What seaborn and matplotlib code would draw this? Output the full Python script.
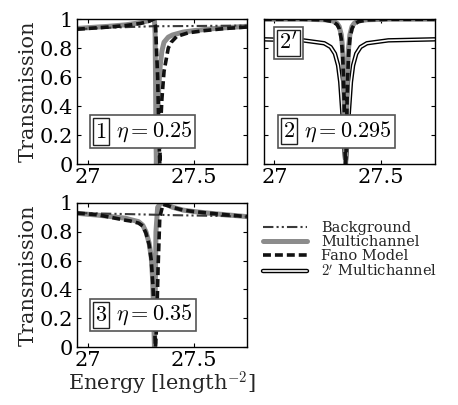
import numpy as np
import matplotlib
matplotlib.use("Agg")
import matplotlib.pyplot as plt
import matplotlib.patheffects as pe
from matplotlib.lines import Line2D
from matplotlib.offsetbox import TextArea, HPacker, PaddedBox, AnchoredOffsetbox
import seaborn as sns

# ---- panel 1 (eta = 0.25) ----
p1_multi_E = [26.95, 27.0, 27.1, 27.18, 27.25, 27.29, 27.305, 27.315, 27.318, 27.320, 27.322, 27.324,
              27.330, 27.336, 27.342, 27.35, 27.36, 27.38, 27.40, 27.45, 27.5, 27.6, 27.75]
p1_multi_T = [0.935, 0.94, 0.95, 0.96, 0.975, 0.99, 1.0, 0.99, 0.9, 0.6, 0.2, 0.0,
              0.35, 0.55, 0.68, 0.78, 0.84, 0.875, 0.89, 0.91, 0.92, 0.935, 0.95]
p1_fano_E = [26.95, 27.0, 27.1, 27.18, 27.25, 27.29, 27.31, 27.32, 27.33, 27.336, 27.340, 27.345,
             27.35, 27.36, 27.37, 27.38, 27.394, 27.42, 27.474, 27.55, 27.65, 27.75]
p1_fano_T = [0.93, 0.935, 0.945, 0.955, 0.97, 0.985, 1.0, 0.95, 0.6, 0.2, 0.0, 0.3,
             0.45, 0.64, 0.72, 0.80, 0.84, 0.88, 0.905, 0.92, 0.935, 0.945]
p1_bg_E = [26.95, 27.1, 27.3, 27.5, 27.75]
p1_bg_T = [0.93, 0.94, 0.95, 0.952, 0.955]

# ---- panel 2 (eta = 0.295) ----
p2_E = [26.95, 27.133, 27.233, 27.273, 27.293, 27.303, 27.313, 27.319, 27.323, 27.326, 27.329, 27.331,
        27.333, 27.335, 27.337, 27.340, 27.343, 27.347, 27.353, 27.363, 27.373, 27.393, 27.433, 27.533, 27.75]
p2_multi_T = [0.999, 0.999, 0.995, 0.987, 0.970, 0.948, 0.891, 0.80, 0.67, 0.50, 0.246, 0.075,
              0.0, 0.075, 0.246, 0.50, 0.67, 0.80, 0.891, 0.948, 0.970, 0.987, 0.995, 0.999, 0.999]
p2_fano_T = [0.998, 0.998, 0.994, 0.982, 0.962, 0.934, 0.862, 0.754, 0.61, 0.434, 0.20, 0.059,
             0.0, 0.059, 0.20, 0.434, 0.61, 0.754, 0.862, 0.934, 0.962, 0.982, 0.994, 0.998, 0.998]
p2_prime_E = [26.95, 27.133, 27.233, 27.263, 27.283, 27.298, 27.308, 27.318, 27.325, 27.333,
              27.341, 27.348, 27.358, 27.368, 27.383, 27.403, 27.433, 27.533, 27.75]
p2_prime_T = [0.86, 0.853, 0.833, 0.807, 0.761, 0.68, 0.566, 0.353, 0.142, 0.0,
              0.142, 0.353, 0.566, 0.68, 0.761, 0.807, 0.833, 0.853, 0.86]
p2_bg_E = [26.95, 27.35, 27.75]
p2_bg_T = [0.998, 0.998, 0.998]

# ---- panel 3 (eta = 0.35) ----
p3_multi_E = [26.95, 27.05, 27.178, 27.2, 27.24, 27.26, 27.275, 27.29, 27.30, 27.306, 27.31, 27.313,
              27.315, 27.318, 27.322, 27.33, 27.346, 27.37, 27.40, 27.45, 27.5, 27.577, 27.65, 27.75]
p3_multi_T = [0.928, 0.915, 0.894, 0.885, 0.87, 0.845, 0.8, 0.72, 0.62, 0.48, 0.3, 0.1,
              0.0, 0.3, 0.8, 0.97, 1.0, 0.99, 0.97, 0.95, 0.94, 0.928, 0.918, 0.905]
p3_fano_E = [26.95, 27.05, 27.178, 27.2, 27.24, 27.26, 27.275, 27.29, 27.30, 27.308, 27.314, 27.318,
             27.320, 27.325, 27.332, 27.34, 27.355, 27.38, 27.41, 27.45, 27.5, 27.577, 27.65, 27.75]
p3_fano_T = [0.93, 0.917, 0.88, 0.875, 0.86, 0.84, 0.79, 0.71, 0.6, 0.42, 0.2, 0.05,
             0.0, 0.15, 0.55, 0.9, 0.99, 0.98, 0.965, 0.95, 0.94, 0.928, 0.918, 0.905]
p3_bg_E = [26.95, 27.2, 27.4, 27.6, 27.75]
p3_bg_T = [0.93, 0.922, 0.915, 0.91, 0.905]

xticks = [27, 27.5]
xticklabels = ["27", "27.5"]
yticks = [0, 0.2, 0.4, 0.6, 0.8, 1]
yticklabels = ["0", "0.2", "0.4", "0.6", "0.8", "1"]

sns.set_theme(style="ticks")
plt.rcParams["font.family"] = ["DejaVu Serif"]
plt.rcParams["mathtext.fontset"] = "cm"

GRAY = "#8c8c8c"
bg_style = dict(color="#3a3a3a", lw=1.5, linestyle=(0, (5, 1.5, 1, 1.5, 1, 1.5)))
multi_style = dict(color=GRAY, lw=3.6, linestyle="-")
fano_style = dict(color="#111111", lw=2.6, linestyle=(0, (2.2, 1.1)))
prime_style = dict(color="white", lw=1.2, linestyle="-",
                   path_effects=[pe.Stroke(linewidth=3.2, foreground="black"), pe.Normal()])

fig = plt.figure(figsize=(4.58, 4.05), dpi=100)
ax1 = fig.add_axes([0.168, 0.595, 0.371, 0.358])
ax2 = fig.add_axes([0.576, 0.595, 0.373, 0.358])
ax3 = fig.add_axes([0.168, 0.143, 0.371, 0.356])


def draw(ax, mE, mT, fE, fT, bE, bT):
    sns.lineplot(x=mE, y=mT, ax=ax, **multi_style)
    sns.lineplot(x=bE, y=bT, ax=ax, **bg_style)
    sns.lineplot(x=fE, y=fT, ax=ax, **fano_style)


def label_box(ax, num, text, E, T):
    tp = dict(fontsize=16, color="black")
    inner = PaddedBox(TextArea(num, textprops=tp), pad=1.5, draw_frame=True,
                      patch_attrs=dict(edgecolor="#222222", facecolor="white", lw=1.0))
    parts = [inner]
    if text:
        parts.append(TextArea(text, textprops=tp))
    row = HPacker(children=parts, sep=5, align="center", pad=0)
    box = AnchoredOffsetbox(loc="center", child=row, pad=0.2, borderpad=0, frameon=True,
                            bbox_to_anchor=(E, T), bbox_transform=ax.transData)
    box.patch.set_boxstyle("square", pad=0)
    box.patch.set_edgecolor("#555555")
    box.patch.set_linewidth(1.2)
    box.zorder = 5
    ax.add_artist(box)


draw(ax1, p1_multi_E, p1_multi_T, p1_fano_E, p1_fano_T, p1_bg_E, p1_bg_T)
sns.lineplot(x=p2_prime_E, y=p2_prime_T, ax=ax2, **prime_style)
draw(ax2, p2_E, p2_multi_T, p2_E, p2_fano_T, p2_bg_E, p2_bg_T)
draw(ax3, p3_multi_E, p3_multi_T, p3_fano_E, p3_fano_T, p3_bg_E, p3_bg_T)

label_box(ax1, r"$1$", r"$\eta = 0.25$", 27.26, 0.224)
label_box(ax2, r"$2$", r"$\eta = 0.295$", 27.29, 0.225)
label_box(ax2, r"$2'$", None, 27.065, 0.835)
label_box(ax3, r"$3$", r"$\eta = 0.35$", 27.26, 0.222)

for ax in (ax1, ax2, ax3):
    ax.set_xlim(26.95, 27.75)
    ax.set_ylim(0, 1)
    ax.set_xticks(xticks)
    ax.set_xticklabels(xticklabels)
    ax.set_yticks(yticks)
    ax.set_yticklabels(yticklabels)
    ax.tick_params(direction="in", top=True, right=True, length=3, width=0.8,
                   labelsize=15, pad=3, colors="black")
    for s in ax.spines.values():
        s.set_linewidth(1.0)
        s.set_color("black")
    ax.set_xlabel("")
    ax.set_ylabel("")

ax2.set_yticklabels([])
ax1.set_ylabel("Transmission", fontsize=15, labelpad=1)
ax3.set_ylabel("Transmission", fontsize=15, labelpad=1)
ax3.set_xlabel(r"Energy [length$^{-2}$]", fontsize=15, labelpad=0)

handles = [Line2D([], [], label="Background", **bg_style),
           Line2D([], [], label="Multichannel", **multi_style),
           Line2D([], [], label="Fano Model", **fano_style),
           Line2D([], [], label=r"$2'$ Multichannel", **prime_style)]
fig.legend(handles=handles, loc="upper left", bbox_to_anchor=(0.574, 0.455),
           frameon=False, fontsize=10.5, handlelength=3.0, handletextpad=1.0,
           labelspacing=0.0, borderpad=0, borderaxespad=0)

fig.savefig("out.png", dpi=100)
